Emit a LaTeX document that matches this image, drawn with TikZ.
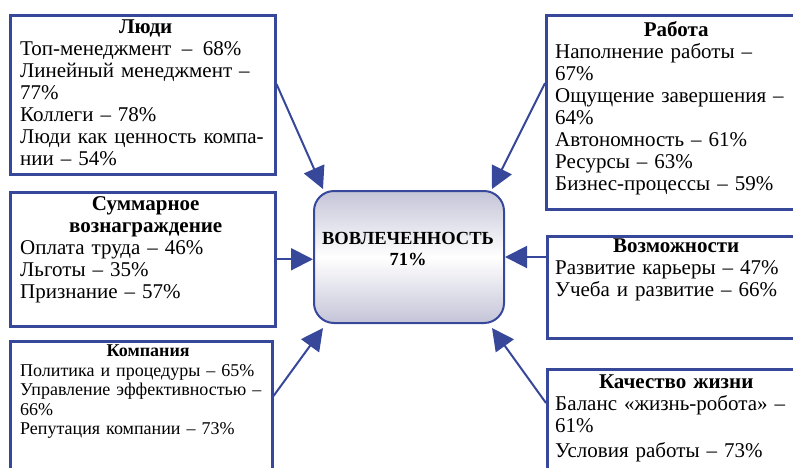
\documentclass[tikz,border=0pt]{standalone}
\usepackage{fontspec}
\setmainfont{Liberation Serif}
\usetikzlibrary{arrows.meta,calc}
\definecolor{bl}{RGB}{55,72,155}
\definecolor{sh}{RGB}{196,196,216}
\begin{document}
\begin{tikzpicture}[x=1pt,y=-1pt,
  box/.style={draw=bl,line width=2.5pt,rectangle,inner sep=0pt,anchor=north west},
  txt/.style={anchor=north west,inner sep=0pt,align=left,font=\fontsize{21}{22}\selectfont},
  smalltxt/.style={anchor=north west,inner sep=0pt,align=left,font=\fontsize{18}{19.5}\selectfont},
  arr/.style={draw=bl,line width=2pt,-{Triangle[length=22pt,width=22pt]}},
]
\clip (0,0) rectangle (793,467);
% boxes
\node[box,minimum width=265pt,minimum height=159pt] (ludi) at (9,14) {};
\node[box,minimum width=265pt,minimum height=134pt] (summ) at (9,191) {};
\node[box,minimum width=262pt,minimum height=150pt] (komp) at (9,340) {};
\node[box,minimum width=260pt,minimum height=194pt] (rab) at (545,14) {};
\node[box,minimum width=260pt,minimum height=102pt] (vozm) at (546,235) {};
\node[box,minimum width=260pt,minimum height=130pt] (kach) at (546,368) {};
% centre
\node[draw=bl,line width=2pt,rounded corners=20pt,minimum width=190pt,minimum height=132pt,
  top color=sh,bottom color=sh,middle color=white,anchor=north west] (cen) at (313,190) {};
\node[anchor=north,inner sep=0pt,align=center,font=\fontsize{18.5}{21}\selectfont\bfseries] (cenlbl) at (408,232) {ВОВЛЕЧЕННОСТЬ\\71\%};
% texts
\node[txt,text width=251pt] (tludi) at (20,20) {{\centering\bfseries Люди\par}Топ-менеджмент\enspace –\enspace 68\%\\Линейный менеджмент –\\77\%\\Коллеги – 78\%\\\makebox[251pt][s]{Люди как ценность компа-}\\нии – 54\%};
\node[txt,text width=251pt] (tsumm) at (20,196) {{\centering\bfseries Суммарное\\вознаграждение\par}Оплата труда – 46\%\\Льготы – 35\%\\Признание – 57\%};
\node[smalltxt,text width=256pt] (tkomp) at (20,345) {{\centering\bfseries\fontsize{18}{18.5}\selectfont Компания\par}Политика и процедуры – 65\%\\Управление эффективностью –\\66\%\\Репутация компании – 73\%};
\node[txt,text width=242pt] (trab) at (555,21) {{\centering\bfseries Работа\par}Наполнение работы –\\67\%\\Ощущение завершения –\\64\%\\Автономность – 61\%\\Ресурсы – 63\%\\Бизнес-процессы – 59\%};
\node[txt,text width=242pt] (tvozm) at (555,239) {{\centering\bfseries Возможности\par}Развитие карьеры – 47\%\\Учеба и развитие – 66\%};
\node[txt,text width=242pt] (tkach) at (555,375) {{\centering\bfseries Качество жизни\par}Баланс «жизнь-робота» –\\61\%\\[3pt]Условия работы – 73\%};
% arrows
\coordinate (a1) at ($(ludi.north east)+(0,70)$);
\coordinate (a2) at ($(rab.north west)+(0,69)$);
\coordinate (a4) at ($(vozm.north west)+(0,22)$);
\coordinate (a5) at ($(komp.north east)+(0,56)$);
\coordinate (a6) at ($(kach.north west)+(0,35)$);
\draw[arr] (a1) -- ($(cen.north west)+(10,-1)$);
\draw[arr] (a2) -- ($(cen.north east)+(-13,-1)$);
\draw[arr] (summ.east) -- (summ.east -| cen.west);
\draw[arr] (a4) -- (a4 -| cen.east);
\draw[arr] (a5) -- ($(cen.south west)+(10,4)$);
\draw[arr] (a6) -- ($(cen.south east)+(-13,4)$);
\end{tikzpicture}
\end{document}
